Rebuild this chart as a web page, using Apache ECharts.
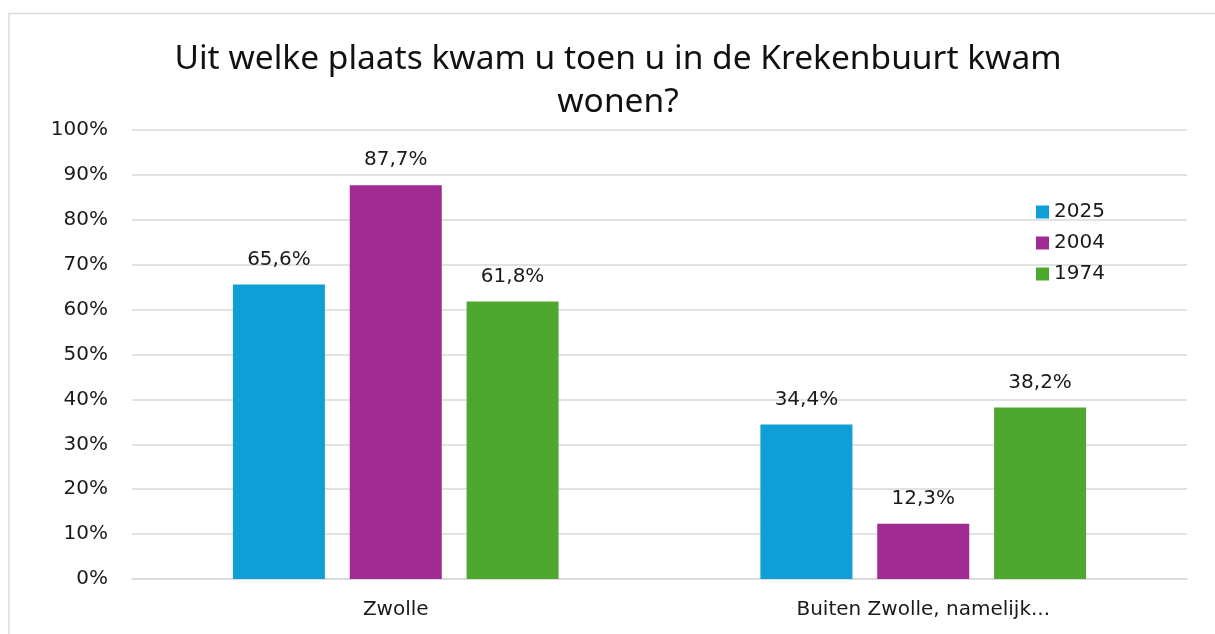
<!DOCTYPE html>
<html>
<head>
<meta charset="utf-8">
<script src="https://cdn.jsdelivr.net/npm/echarts@6/dist/echarts.min.js"></script>
<style>
  html, body { margin: 0; padding: 0; background: #fff; }
  #chart { width: 1215px; height: 634px; }
</style>
</head>
<body>
<div id="chart"></div>
<script>
// data
var categories = ['Zwolle', 'Buiten Zwolle, namelijk...'];
var seriesNames = ['2025', '2004', '1974'];
var values2025 = [65.6, 34.4];
var values2004 = [87.7, 12.3];
var values1974 = [61.8, 38.2];
var colors = ['#0f9ed5', '#a02b93', '#4ea72e'];

var chart = echarts.init(document.getElementById('chart'));

function fmt(v) {
    return v.toFixed(1).replace('.', ',') + '%';
}

function makeSeries(name, data, i) {
    return {
        name: name,
        type: 'bar',
        data: data,
        barWidth: 92,
        barGap: '27%',
        itemStyle: { color: colors[i] },
        label: {
            show: true,
            position: 'top',
            distance: 15,
            color: '#1a1a1a',
            fontSize: 20,
            fontFamily: 'DejaVu Sans',
            formatter: function (p) { return fmt(p.value); }
        }
    };
}

var option = {
    animation: false,
    graphic: [{
        type: 'rect',
        shape: { x: 9, y: 13.5, width: 1400, height: 800 },
        style: { fill: 'none', stroke: '#d9d9d9', lineWidth: 1.5 },
        silent: true
    }],
    title: {
        text: 'Uit welke plaats kwam u toen u in de Krekenbuurt kwam\nwonen?',
        left: 613,
        textAlign: 'center',
        top: 33,
        textStyle: {
            fontFamily: 'Noto Sans',
            fontSize: 33.5,
            fontWeight: 'normal',
            color: '#111',
            lineHeight: 43
        }
    },
    legend: {
        data: seriesNames,
        orient: 'vertical',
        left: 1031,
        top: 197,
        itemWidth: 13,
        itemHeight: 13,
        itemGap: 11,
        icon: 'rect',
        textStyle: { fontSize: 20, fontFamily: 'DejaVu Sans', color: '#1a1a1a' }
    },
    grid: { left: 132, right: 28, top: 130, bottom: 55 },
    xAxis: {
        type: 'category',
        data: categories,
        axisLine: { lineStyle: { color: '#d9d9d9', width: 1.5 } },
        axisTick: { show: false },
        axisLabel: { fontSize: 20, fontFamily: 'DejaVu Sans', color: '#1a1a1a', margin: 21 }
    },
    yAxis: {
        type: 'value',
        min: 0,
        max: 100,
        interval: 10,
        axisLine: { show: false },
        axisTick: { show: false },
        splitLine: { lineStyle: { color: '#d9d9d9', width: 1.5 } },
        axisLabel: {
            fontSize: 20,
            fontFamily: 'DejaVu Sans',
            color: '#1a1a1a',
            margin: 24,
            formatter: '{value}%'
        }
    },
    series: [
        makeSeries(seriesNames[0], values2025, 0),
        makeSeries(seriesNames[1], values2004, 1),
        makeSeries(seriesNames[2], values1974, 2)
    ]
};

chart.setOption(option);
</script>
</body>
</html>
